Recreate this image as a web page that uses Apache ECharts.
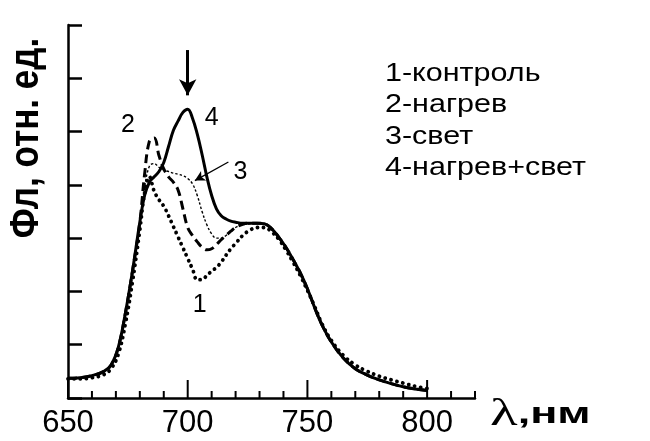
<!DOCTYPE html>
<html>
<head>
<meta charset="utf-8">
<script src="https://cdn.jsdelivr.net/npm/echarts@6/dist/echarts.min.js"></script>
<style>html,body{margin:0;padding:0;background:#fff;}#c{width:650px;height:441px;}</style>
</head>
<body>
<div id="c"></div>
<script>
// wavelength grid, nm
var wavelengths = [650,655,660,665,668,671,674,677,680,682,684,686,688,690,692,694,696,698,700,702,704,706,708,710,712,714,716,718,720,723,726,729,732,735,738,741,744,747,750,753,756,760,765,770,775,780,785,790,795,800];
// 1 - control
var control = [0.36,0.36,0.38,0.44,0.55,0.82,1.4,2.2,3.15, 3.85,4.15,3.88,3.72,3.6,3.42,3.22,3.02,2.82,2.62,2.42,2.22,2.22,2.3,2.38,2.45,2.55,2.68,2.8,2.9,3.05,3.15, 3.2,3.2,3.12,2.98,2.78,2.55,2.3,2.02,1.72,1.4,1.08,0.8,0.62,0.5,0.41,0.34,0.28,0.22,0.18];
// 2 - heating
var heating = [0.37,0.38,0.42,0.5,0.62,0.95,1.6,2.4,3.3, 4.2,4.82,4.88,4.55,4.3,4.15,4.05,3.9,3.55,3.2,3.05,2.93,2.83,2.78,2.8,2.88,2.97,3.05,3.13,3.2,3.26,3.28, 3.28,3.27,3.18,3.02,2.83,2.6,2.35,2.05,1.7,1.38,1.05,0.75,0.55,0.43,0.34,0.27,0.21,0.17,0.14];
// 3 - light
var light = [0.37,0.38,0.42,0.5,0.62,0.95,1.6,2.4,3.3, 3.95,4.35,4.4,4.33,4.28,4.25,4.22,4.2,4.17,4.12,4.02,3.8,3.5,3.25,3.08,3.0,3.0,3.05,3.12,3.2,3.25,3.27, 3.28,3.27,3.18,3.02,2.83,2.6,2.35,2.05,1.7,1.38,1.05,0.75,0.55,0.43,0.34,0.27,0.21,0.17,0.14];
// 4 - heating + light
var heatLight = [0.37,0.38,0.42,0.5,0.62,0.95,1.6,2.4,3.3, 3.8,4.05,4.15,4.25,4.42,4.72,5.02,5.2,5.36,5.42,5.25,4.95,4.57,4.15,3.8,3.55,3.42,3.36,3.32,3.3,3.28,3.28, 3.28,3.27,3.18,3.02,2.83,2.6,2.35,2.05,1.7,1.38,1.05,0.75,0.55,0.43,0.34,0.27,0.21,0.17,0.14];

var xMajorTicks = [650,700,750,800];
var xMinorTicks = [660,670,680,690,710,720,730,740,760,770,780,790,810,820];
var legendItems = ['1-контроль','2-нагрев','3-свет','4-нагрев+свет'];
var curveLabelText = ['1','2','3','4'];
var curveLabelAt = [[705,1.74],[675,5.12],[722,4.24],[710,5.25]];
var arrowPeak = [[700,6.53],[700,5.68]];
var arrowLabel3 = [[717,4.43],[703,4.08]];

function pairs(xs, ys){ return xs.map(function(x,i){ return [x, ys[i]]; }); }

function curveLabel(i){
  return {
    symbol:'circle', symbolSize:1, silent:true,
    itemStyle:{color:'rgba(0,0,0,0)'},
    label:{show:true, position:'inside', formatter:curveLabelText[i], color:'#000', fontSize:25, fontFamily:'Arial'},
    data:[{coord:curveLabelAt[i]}]
  };
}

var textGraphics = [
  {type:'text', x:27, y:138, rotation:Math.PI/2, scaleY:1.15,
   style:{text:'Фл, отн. ед.', x:0, y:0, align:'center', verticalAlign:'middle', fill:'#000', font:'bold 35px Arial'}},
  {type:'text', x:490, y:434, scaleX:1.5,
   style:{text:'{l|λ}{u|,нм}', x:0, y:0, verticalAlign:'bottom',
     rich:{l:{font:'38px "Liberation Serif"', fill:'#000'}, u:{font:'bold 30px Arial', fill:'#000'}}}},
  {type:'text', x:385, y:74, scaleX:1.22, style:{text:legendItems[0], x:0, y:0, verticalAlign:'middle', fill:'#000', font:'25px Arial'}},
  {type:'text', x:385, y:105, scaleX:1.22, style:{text:legendItems[1], x:0, y:0, verticalAlign:'middle', fill:'#000', font:'25px Arial'}},
  {type:'text', x:385, y:137, scaleX:1.22, style:{text:legendItems[2], x:0, y:0, verticalAlign:'middle', fill:'#000', font:'25px Arial'}},
  {type:'text', x:385, y:168, scaleX:1.22, style:{text:legendItems[3], x:0, y:0, verticalAlign:'middle', fill:'#000', font:'25px Arial'}}
];

var chart = echarts.init(document.getElementById('c'), null, {renderer:'canvas'});
var option = {
  animation:false,
  grid:{left:68, right:175, top:25, bottom:43},
  xAxis:{
    type:'value', min:650, max:820, interval:50,
    axisLine:{show:true, onZero:false, lineStyle:{color:'#000', width:2.5}},
    axisTick:{show:false},
    axisLabel:{show:true, color:'#000', fontSize:31, fontFamily:'Arial', margin:10,
      formatter:function(v){ return xMajorTicks.indexOf(v) >= 0 ? String(v) : ''; }},
    splitLine:{show:false}
  },
  yAxis:{
    type:'value', min:0, max:7, interval:1,
    axisLine:{show:true, onZero:false, lineStyle:{color:'#000', width:2.5}},
    axisTick:{show:true, inside:true, length:14, lineStyle:{color:'#000', width:2.5}},
    axisLabel:{show:false},
    splitLine:{show:false}
  },
  series:[
    {name:legendItems[0], type:'line', data:pairs(wavelengths, control), smooth:0.4, showSymbol:false, symbol:'none',
     lineStyle:{color:'#000', width:3.8, type:[0.1,6], cap:'round'}, markPoint:curveLabel(0), z:2},
    {name:legendItems[1], type:'line', data:pairs(wavelengths, heating), smooth:0.4, showSymbol:false, symbol:'none',
     lineStyle:{color:'#000', width:3, type:[9,5]}, markPoint:curveLabel(1), z:3},
    {name:legendItems[2], type:'line', data:pairs(wavelengths, light), smooth:0.4, showSymbol:false, symbol:'none',
     lineStyle:{color:'#000', width:1.4, type:[2.5,2]}, markPoint:curveLabel(2),
     markLine:{silent:true, symbol:['none','arrow'], symbolSize:[8,10], label:{show:false},
       lineStyle:{color:'#000', width:1.3, type:'solid'},
       data:[[{coord:arrowLabel3[0]},{coord:arrowLabel3[1]}]]}, z:4},
    {name:legendItems[3], type:'line', data:pairs(wavelengths, heatLight), smooth:0.4, showSymbol:false, symbol:'none',
     lineStyle:{color:'#000', width:3}, markPoint:curveLabel(3),
     markLine:{silent:true, symbol:['none','arrow'], symbolSize:[13,16], label:{show:false},
       lineStyle:{color:'#000', width:3, type:'solid'},
       data:[[{coord:arrowPeak[0]},{coord:arrowPeak[1]}]]}, z:5}
  ],
  graphic:textGraphics
};
chart.setOption(option);

// inward x-axis ticks, positioned through the chart's own x scale
function tickGraphics(values, lenPx){
  return values.map(function(v){
    var p = chart.convertToPixel({xAxisIndex:0, yAxisIndex:0}, [v, 0]);
    return {type:'line', z:100, silent:true,
      shape:{x1:p[0], y1:p[1], x2:p[0], y2:p[1] - lenPx},
      style:{stroke:'#000', lineWidth:2}};
  });
}
chart.setOption({graphic: textGraphics.concat(tickGraphics(xMajorTicks, 18), tickGraphics(xMinorTicks, 7))}, {replaceMerge:['graphic']});
</script>
</body>
</html>
